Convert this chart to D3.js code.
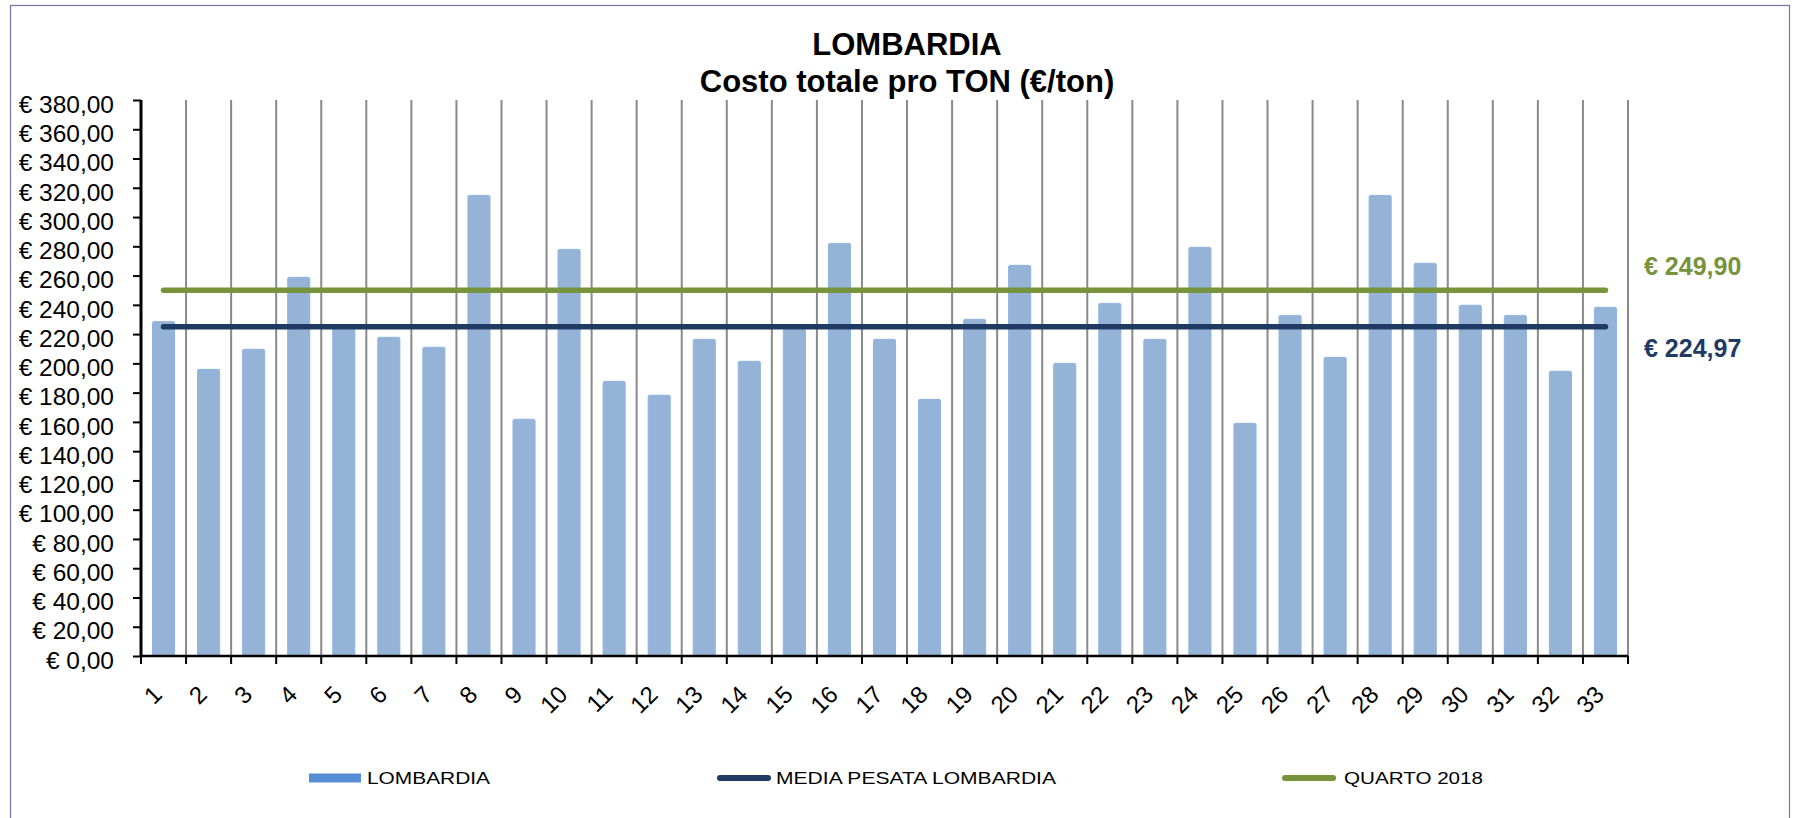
<!DOCTYPE html>
<html>
<head>
<meta charset="utf-8">
<script src="https://cdn.jsdelivr.net/npm/d3@7"></script>
<style>
  html, body { margin: 0; padding: 0; background: #ffffff; }
  svg { display: block; font-family: "Liberation Sans", Arial, sans-serif; }
</style>
</head>
<body>
<svg id="chart" width="1798" height="818"></svg>
<script>
// ---- data ----
const titleLines = ["LOMBARDIA", "Costo totale pro TON (€/ton)"];
const categories = ["1","2","3","4","5","6","7","8","9","10","11","12","13","14","15","16","17","18","19","20","21","22","23","24","25","26","27","28","29","30","31","32","33"];
const values = [228.5, 195.9, 209.6, 258.8, 225.2, 217.8, 211.0, 314.8, 161.8, 277.9, 187.7, 178.2, 216.4, 201.4, 223.3, 282.0, 216.4, 175.4, 230.1, 267.0, 200.0, 241.0, 216.4, 279.3, 159.0, 232.8, 204.1, 314.8, 268.4, 239.7, 232.8, 194.6, 238.3];
const mediaPesata = 224.97;
const quarto2018 = 249.90;
const yTicks = [0,20,40,60,80,100,120,140,160,180,200,220,240,260,280,300,320,340,360,380];
const seriesNames = ["LOMBARDIA", "MEDIA PESATA LOMBARDIA", "QUARTO 2018"];

(function () {
// ---- layout ----
const colors = { bar: "#95B3D7", barStroke: "#8DB4E2", legendBar: "#558ED5", media: "#1F3A63", quarto: "#77933C" };
const pLeft = 141, pRight = 1628, pTop = 100, pBottom = 656;
const svg = d3.select("#chart");
const fmt = v => "€ " + v.toFixed(2).replace(".", ",");

// outer border
svg.append("rect").attr("x", 10.5).attr("y", 5.5).attr("width", 1779).attr("height", 840)
  .attr("fill", "none").attr("stroke", "#7E6EA6").attr("stroke-width", 1.2);

const x = d3.scaleBand().domain(categories).range([pLeft, pRight]).paddingInner(0.51).paddingOuter(0.255);
const y = d3.scaleLinear().domain([0, 380]).range([pBottom, pTop]);
const step = x.step();
const boundaries = d3.range(categories.length + 1).map(k => pLeft + k * step);

// vertical gridlines at category boundaries
svg.append("g").selectAll("line").data(boundaries.slice(1)).join("line")
  .attr("x1", d => d).attr("x2", d => d).attr("y1", y(380)).attr("y2", y(0))
  .attr("stroke", "#898989").attr("stroke-width", 2);

// bars
svg.append("g").selectAll("path").data(values).join("path")
  .attr("d", (d, i) => {
    const x0 = x(categories[i]), w = x.bandwidth(), y0 = y(d), y1 = y(0), r = 1.5;
    return `M${x0},${y1}V${y0 + r}Q${x0},${y0} ${x0 + r},${y0}H${x0 + w - r}Q${x0 + w},${y0} ${x0 + w},${y0 + r}V${y1}Z`;
  })
  .attr("fill", colors.bar).attr("stroke", colors.barStroke).attr("stroke-width", 1);

// reference lines
const lineX1 = x(categories[0]) + x.bandwidth() / 2;
const lineX2 = x(categories[categories.length - 1]) + x.bandwidth() / 2;
[[quarto2018, colors.quarto], [mediaPesata, colors.media]].forEach(([v, c]) => {
  svg.append("line").attr("x1", lineX1).attr("x2", lineX2).attr("y1", y(v)).attr("y2", y(v))
    .attr("stroke", c).attr("stroke-width", 5.5).attr("stroke-linecap", "round");
});

// y axis
const yAxis = d3.axisLeft(y).tickValues(yTicks).tickFormat(fmt).tickSize(8).tickPadding(19);
const gy = svg.append("g").attr("transform", `translate(${pLeft},0)`).call(yAxis);
gy.select(".domain").attr("stroke", "#000").attr("stroke-width", 3).attr("d", `M0,${pTop}V${pBottom}`);
gy.selectAll(".tick line").attr("stroke", "#000").attr("stroke-width", 2);
gy.selectAll(".tick text").attr("font-size", 24.5).attr("fill", "#000").attr("dy", "0.5em")
  .attr("font-family", "Liberation Sans, Arial, sans-serif");

// x axis
svg.append("line").attr("x1", pLeft).attr("x2", pRight).attr("y1", pBottom).attr("y2", pBottom)
  .attr("stroke", "#000").attr("stroke-width", 2.5);
svg.append("g").selectAll("line").data(boundaries).join("line")
  .attr("x1", d => d).attr("x2", d => d).attr("y1", pBottom).attr("y2", pBottom + 8)
  .attr("stroke", "#000").attr("stroke-width", 2);
svg.append("g").selectAll("text").data(categories).join("text")
  .attr("transform", d => `translate(${x(d) + x.bandwidth() / 2 - 6},${pBottom + 34}) rotate(-45)`)
  .attr("text-anchor", "end").attr("dy", "0.35em").attr("font-size", 24).attr("fill", "#000")
  .text(d => d);

// title
svg.append("g").selectAll("text").data(titleLines).join("text")
  .attr("x", 907).attr("y", (d, i) => 55 + i * 37)
  .attr("text-anchor", "middle").attr("font-weight", "bold").attr("font-size", 31).attr("fill", "#000")
  .text(d => d);

// value labels at right
svg.append("text").attr("x", 1644).attr("y", 275).attr("font-weight", "bold").attr("font-size", 25)
  .attr("fill", colors.quarto).text(fmt(quarto2018));
svg.append("text").attr("x", 1644).attr("y", 357).attr("font-weight", "bold").attr("font-size", 25)
  .attr("fill", colors.media).text(fmt(mediaPesata));

// legend
const ly = 778;
const legend = [
  { name: seriesNames[0], type: "rect", color: colors.legendBar, sx: 309, tx: 367, tw: 123 },
  { name: seriesNames[1], type: "line", color: colors.media, sx: 717, tx: 776, tw: 280 },
  { name: seriesNames[2], type: "line", color: colors.quarto, sx: 1282, tx: 1344, tw: 139 }
];
const lg = svg.append("g");
legend.forEach(l => {
  if (l.type === "rect") {
    lg.append("rect").attr("x", l.sx).attr("y", ly - 4.5).attr("width", 52).attr("height", 9).attr("fill", l.color);
  } else {
    lg.append("line").attr("x1", l.sx + 3).attr("x2", l.sx + 51).attr("y1", ly).attr("y2", ly)
      .attr("stroke", l.color).attr("stroke-width", 6).attr("stroke-linecap", "round");
  }
  lg.append("text").attr("x", l.tx).attr("y", ly).attr("dy", "0.36em").attr("font-size", 17)
    .attr("textLength", l.tw).attr("lengthAdjust", "spacingAndGlyphs").attr("fill", "#000").text(l.name);
});
})();
</script>
</body>
</html>
